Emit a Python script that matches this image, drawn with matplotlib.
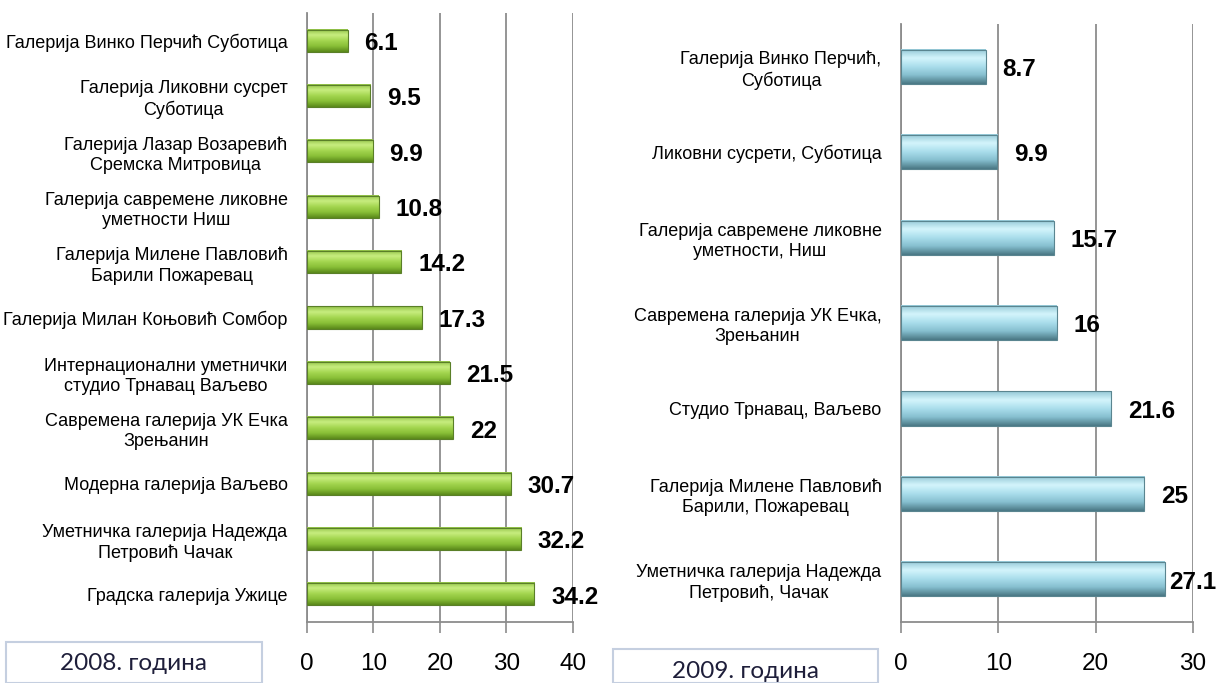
import numpy as np
import matplotlib
matplotlib.use("Agg")
import matplotlib.pyplot as plt
from matplotlib import font_manager
from matplotlib.colors import LinearSegmentedColormap
from matplotlib.patches import Rectangle

# data, 2008
labels_2008 = [
    "Галерија Винко Перчић Суботица",
    "Галерија Ликовни сусрет\nСуботица",
    "Галерија Лазар Возаревић\nСремска Митровица",
    "Галерија савремене ликовне\nуметности Ниш",
    "Галерија Милене Павловић\nБарили Пожаревац",
    "Галерија Милан Коњовић Сомбор",
    "Интернационални уметнички\nстудио Трнавац Ваљево",
    "Савремена галерија УК Ечка\nЗрењанин",
    "Модерна галерија Ваљево",
    "Уметничка галерија Надежда\nПетровић Чачак",
    "Градска галерија Ужице",
]
values_2008 = [6.1, 9.5, 9.9, 10.8, 14.2, 17.3, 21.5, 22, 30.7, 32.2, 34.2]
ticks_2008 = [0, 10, 20, 30, 40]

# data, 2009
labels_2009 = [
    "Галерија Винко Перчић,\nСуботица",
    "Ликовни сусрети, Суботица",
    "Галерија савремене ликовне\nуметности, Ниш",
    "Савремена галерија УК Ечка,\nЗрењанин",
    "Студио Трнавац, Ваљево",
    "Галерија Милене Павловић\nБарили, Пожаревац",
    "Уметничка галерија Надежда\nПетровић, Чачак",
]
values_2009 = [8.7, 9.9, 15.7, 16, 21.6, 25, 27.1]
ticks_2009 = [0, 10, 20, 30]


def pick_font(names, default):
    for n in names:
        try:
            font_manager.findfont(n, fallback_to_default=False)
            return n
        except Exception:
            pass
    return default


narrow = pick_font(["Liberation Sans Narrow", "DejaVu Sans Condensed"], "Liberation Sans")
plt.rcParams['font.family'] = ['Liberation Sans', 'DejaVu Sans']

green = LinearSegmentedColormap.from_list(
    "g", ["#8fbf45", "#c8ee80", "#a4d650", "#88bf36", "#5a881a"])
blue = LinearSegmentedColormap.from_list(
    "b", ["#94c8d6", "#d4f5fc", "#aadeec", "#86bfcf", "#4a7884"])

fig = plt.figure(figsize=(12.2, 6.83), dpi=100)


def draw_panel(rect, labels, values, ticks, cmap, edge, hgt):
    ax = fig.add_axes(rect)
    n = len(values)
    ypos = np.arange(n)
    grad = np.linspace(0, 1, 64).reshape(-1, 1)
    for y, v in zip(ypos, values):
        ax.imshow(grad, cmap=cmap, aspect='auto', origin='upper',
                  extent=(0, v, y + hgt / 2, y - hgt / 2), zorder=3,
                  interpolation='bicubic')
        ax.add_patch(Rectangle((0, y - hgt / 2), v, hgt, fill=False,
                               edgecolor=edge, lw=0.8, zorder=4))
    ax.set_xlim(ticks[0], ticks[-1])
    ax.set_ylim(n - 0.5, -0.5)
    ax.set_xticks(ticks)
    ax.set_yticks(ypos)
    ax.set_yticklabels(labels, fontsize=13, family=narrow,
                       multialignment='center', linespacing=1.25)
    ax.tick_params(axis='y', length=0, pad=14)
    ax.tick_params(axis='x', length=8, width=1.2, color='#8c8c8c',
                   labelsize=17.5, pad=14)
    ax.grid(axis='x', color='#8c8c8c', lw=1.3, zorder=1)
    for s in ['top', 'right']:
        ax.spines[s].set_visible(False)
    for s in ['left', 'bottom']:
        ax.spines[s].set_color('#8c8c8c')
        ax.spines[s].set_linewidth(1.3)
    ax.set_axisbelow(True)

    # value labels, kept inside the figure
    px_per_unit = rect[2] * fig.get_figwidth() * fig.dpi / (ticks[-1] - ticks[0])
    for y, v in zip(ypos, values):
        end_px = rect[0] * fig.get_figwidth() * fig.dpi + v * px_per_unit
        off = 12 if end_px + 16 + 50 < fig.get_figwidth() * fig.dpi else 3
        ax.annotate(f"{v:g}", (v, y), xytext=(off, -2), textcoords='offset points',
                    ha='left', va='center', fontsize=17.5, fontweight='bold',
                    annotation_clip=False, zorder=5)
    return ax


draw_panel([0.2516, 0.0893, 0.218, 0.8917], labels_2008, values_2008,
           ticks_2008, green, '#5a7f28', 0.4)
draw_panel([0.7385, 0.0893, 0.2393, 0.8755], labels_2009, values_2009,
           ticks_2009, blue, '#5a8590', 0.4)

# year boxes
for x0, x1, y0, txt in [(6, 262, 642, "2008. година"), (613, 878, 649, "2009. година")]:
    W, H = 1220, 683
    fig.patches.append(Rectangle((x0 / W, 0), (x1 - x0) / W, 1 - y0 / H,
                                 transform=fig.transFigure, facecolor='white',
                                 edgecolor='#c5cfe0', lw=1.5))
    fig.text((x0 + x1) / 2 / W, (1 - (y0 + 22) / H), txt, ha='center', va='center',
             fontsize=17.5, family=['Lato', 'DejaVu Sans'], color='#1e1e3a')

fig.savefig("out.png", dpi=100)
